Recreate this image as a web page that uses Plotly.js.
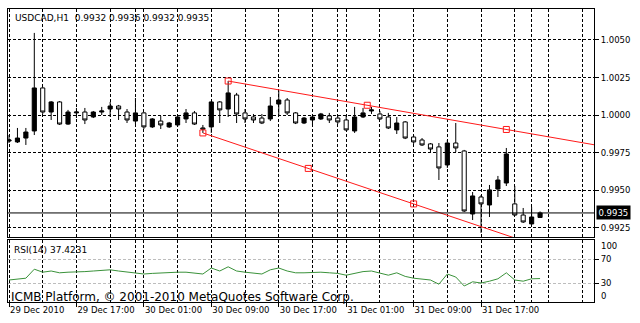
<!DOCTYPE html>
<html>
<head>
<meta charset="utf-8">
<script src="https://cdn.plot.ly/plotly-3.0.1.min.js"></script>
<style>html,body{margin:0;padding:0;background:#fff;}#chart{width:640px;height:323px;}</style>
</head>
<body>
<div id="chart"></div>
<script>
// ---- data (USDCAD, H1) ----
const opens  = [0.99828,0.99822,0.99848,0.99895,1.00181,1.00021,1.00088,0.99941,1.00015,1.00021,
                0.99988,1.00021,1.00041,1.00061,1.00021,0.99961,1.00015,0.99922,0.99961,0.99922,
                0.99935,0.99975,1.00015,0.99915,0.99922,1.00088,1.00041,1.00134,1.00015,0.99988,
                0.99981,0.99975,1.00074,1.00101,1.00015,0.99948,0.99968,0.99975,0.99995,0.99981,
                0.99968,0.99895,0.99988,1.00028,1.00008,0.99988,0.99902,0.99955,0.99855,0.99835,
                0.99809,0.99789,0.99669,0.99815,0.99762,0.99343,0.99456,0.99403,0.99509,0.99549,
                0.99410,0.99336,0.99277,0.99320];
const highs  = [0.99868,0.99915,0.99915,1.00547,1.00188,1.00094,1.00094,1.00035,1.00048,1.00048,
                1.00028,1.00055,1.00088,1.00068,1.00041,1.00114,1.00021,0.99981,0.99995,0.99955,
                1.00001,1.00041,1.00028,0.99935,1.00094,1.00094,1.00227,1.00148,1.00041,1.00008,
                1.00008,1.00121,1.00161,1.00114,1.00021,0.99988,1.00008,1.00015,1.00015,1.00001,
                1.00001,1.00055,1.00048,1.00055,1.00028,1.00015,0.99988,0.99961,0.99868,0.99848,
                0.99815,0.99815,0.99835,0.99948,0.99769,0.99489,0.99469,0.99536,0.99596,0.99782,
                0.99529,0.99383,0.99390,0.99360];
const lows   = [0.99815,0.99815,0.99802,0.99868,1.00008,0.99968,0.99935,0.99935,0.99981,0.99941,
                0.99981,1.00001,0.99988,0.99968,0.99948,0.99941,0.99908,0.99915,0.99908,0.99915,
                0.99922,0.99948,0.99935,0.99882,0.99882,0.99948,0.99988,0.99948,0.99948,0.99948,
                0.99941,0.99961,1.00001,1.00001,0.99941,0.99941,0.99935,0.99968,0.99948,0.99941,
                0.99895,0.99882,0.99981,1.00008,0.99968,0.99908,0.99875,0.99841,0.99809,0.99795,
                0.99755,0.99569,0.99649,0.99755,0.99356,0.99303,0.99217,0.99323,0.99456,0.99529,
                0.99330,0.99283,0.99270,0.99320];
const closes = [0.99835,0.99848,0.99888,1.00181,1.00021,1.00088,0.99941,1.00021,1.00021,0.99968,
                1.00021,1.00028,1.00061,1.00041,0.99968,1.00015,0.99922,0.99975,0.99935,0.99948,
                0.99988,1.00015,0.99941,0.99908,1.00088,1.00035,1.00148,1.00008,0.99975,0.99968,
                0.99948,1.00061,1.00101,1.00015,0.99948,0.99981,0.99988,1.00008,0.99968,0.99955,
                0.99902,0.99988,1.00015,1.00035,0.99975,0.99915,0.99948,0.99848,0.99822,0.99802,
                0.99775,0.99649,0.99815,0.99782,0.99363,0.99463,0.99410,0.99503,0.99569,0.99742,
                0.99336,0.99290,0.99323,0.99350];
const rsi14  = [35,36,38,53,48,50,47,48,48,49,
                50,51,52,50,48,46,45,46,47,47,
                48,48,46,45,55,50,57,50,48,46,
                45,52,55,50,47,47,48,48,47,46,
                43,46,49,50,46,43,47,41,38,36,
                35,28,45,40,25,32,30,33,37,47,
                35,33,37,37.4231];

// time labels (bar index -> label)
const timeTickBars   = [0, 8, 16, 24, 32, 40, 48, 56];
const timeTickLabels = ['29 Dec 2010','29 Dec 17:00','30 Dec 01:00','30 Dec 09:00',
                        '30 Dec 17:00','31 Dec 01:00','31 Dec 09:00','31 Dec 17:00'];
const dayBreakBars   = [15, 39, 62];

const priceTicks = [0.9925, 0.9950, 0.9975, 1.0000, 1.0025, 1.0050];
const rsiLevels  = [30, 70];

// trend lines: two anchor points each (bar index, price)
const upperTrendBars   = [26, 59];
const upperTrendPrices = [1.00227, 0.99905];
const lowerTrendBars   = [23, 48];
const lowerTrendPrices = [0.99882, 0.99410];

const symbolName = 'USDCAD,H1';

// ---- build ----
const bars = opens.map((_, i) => i);
const n = bars.length;
const xRange = [-0.12, 69.4];

function ray(bx, py) {
  const slope = (py[1] - py[0]) / (bx[1] - bx[0]);
  const xe = xRange[1] + 1;
  return {x: [bx[0], bx[1], xe], y: [py[0], py[1], py[0] + slope * (xe - bx[0])]};
}
const up = ray(upperTrendBars, upperTrendPrices);
const lo = ray(lowerTrendBars, lowerTrendPrices);
const mid = (a) => (a[0] + a[1]) / 2;

const minorGrid = [];
for (let g = 4; g <= 68; g += 4) if (!timeTickBars.includes(g)) minorGrid.push(g);
dayBreakBars.forEach(b => minorGrid.push(b));

const fmt = v => v.toFixed(4);
const last = n - 1;
const headerText = symbolName + '  ' + [opens[last], highs[last], lows[last], closes[last]].map(fmt).join(' ');

const gridDash = '3px,2px';
const FONT = 'DejaVu Sans';

const traces = [
  {
    type: 'candlestick', x: bars, open: opens, high: highs, low: lows, close: closes,
    xaxis: 'x', yaxis: 'y', whiskerwidth: 0,
    increasing: {line: {color: '#000', width: 1}, fillcolor: '#000'},
    decreasing: {line: {color: '#000', width: 1}, fillcolor: '#fff'},
    hoverinfo: 'skip', showlegend: false
  },
  {type: 'scatter', mode: 'lines', x: up.x, y: up.y, xaxis: 'x', yaxis: 'y',
   line: {color: '#ff1a1a', width: 1}, hoverinfo: 'skip', showlegend: false},
  {type: 'scatter', mode: 'lines', x: lo.x, y: lo.y, xaxis: 'x', yaxis: 'y',
   line: {color: '#ff1a1a', width: 1}, hoverinfo: 'skip', showlegend: false},
  {type: 'scatter', mode: 'markers',
   x: [upperTrendBars[0], mid(upperTrendBars), upperTrendBars[1], lowerTrendBars[0], mid(lowerTrendBars), lowerTrendBars[1]],
   y: [upperTrendPrices[0], mid(upperTrendPrices), upperTrendPrices[1], lowerTrendPrices[0], mid(lowerTrendPrices), lowerTrendPrices[1]],
   xaxis: 'x', yaxis: 'y',
   marker: {symbol: 'square-open', size: 6, color: '#ff1a1a', line: {width: 1, color: '#ff1a1a'}},
   hoverinfo: 'skip', showlegend: false},
  {type: 'scatter', mode: 'lines', x: bars, y: rsi14, xaxis: 'x2', yaxis: 'y2',
   line: {color: '#3a923a', width: 1}, hoverinfo: 'skip', showlegend: false}
];

const H = 323, mt = 9, mb = 21;
const ph = H - mt - mb;
const mainBottom = (H - mb - 237) / ph;
const rsiTop = (H - mb - 240) / ph;

const xCommon = {
  range: xRange, tickmode: 'array', tickvals: timeTickBars, ticktext: timeTickLabels,
  showgrid: true, gridcolor: '#000', gridwidth: 1, griddash: gridDash,
  minor: {tickmode: 'array', tickvals: minorGrid, showgrid: true, gridcolor: '#000', gridwidth: 1, griddash: gridDash, ticks: ''},
  showline: true, mirror: true, linecolor: '#000', linewidth: 1, zeroline: false,
  rangeslider: {visible: false}, fixedrange: true
};

const layout = {
  width: 640, height: 323,
  margin: {l: 8, r: 46, t: mt, b: mb, pad: 0},
  paper_bgcolor: '#fff', plot_bgcolor: '#fff',
  font: {family: FONT, size: 9, color: '#000'},
  showlegend: false, hovermode: false,
  xaxis: Object.assign({}, xCommon, {domain: [0, 1], anchor: 'y', showticklabels: false, ticks: ''}),
  xaxis2: Object.assign({}, xCommon, {domain: [0, 1], anchor: 'y2', showticklabels: true,
    ticks: 'outside', ticklen: 4, tickcolor: '#000', ticklabelposition: 'outside right',
    tickfont: {family: FONT, size: 8.5, color: '#000'}}),
  yaxis: {
    domain: [mainBottom, 1], range: [0.99190, 1.00706], side: 'right', anchor: 'x',
    tickmode: 'array', tickvals: priceTicks, ticktext: priceTicks.map(fmt),
    showgrid: true, gridcolor: '#000', gridwidth: 1, griddash: gridDash,
    ticks: 'outside', ticklen: 4, tickcolor: '#000',
    showline: true, mirror: true, linecolor: '#000', linewidth: 1, zeroline: false,
    tickfont: {family: FONT, size: 8.5, color: '#000'}, fixedrange: true
  },
  yaxis2: {
    domain: [0, rsiTop], range: [-1.67, 101.67], side: 'right', anchor: 'x2',
    tickmode: 'array', tickvals: rsiLevels, ticktext: rsiLevels.map(String),
    showgrid: true, gridcolor: '#bdbdbd', gridwidth: 1, griddash: gridDash,
    ticks: 'outside', ticklen: 4, tickcolor: '#000',
    showline: true, mirror: true, linecolor: '#000', linewidth: 1, zeroline: false,
    tickfont: {family: FONT, size: 8.5, color: '#000'}, fixedrange: true
  },
  shapes: [
    {type: 'line', xref: 'paper', yref: 'y', x0: 0, x1: 1, y0: closes[last], y1: closes[last],
     line: {color: '#000', width: 1}}
  ],
  annotations: [
    {xref: 'paper', yref: 'paper', x: 0, y: 1, xanchor: 'left', yanchor: 'top', xshift: 5, yshift: -2,
     text: headerText, showarrow: false, font: {family: FONT, size: 9, color: '#000'}},
    {xref: 'paper', yref: 'paper', x: 0, y: rsiTop, xanchor: 'left', yanchor: 'top', xshift: 4, yshift: -3,
     text: 'RSI(14) ' + rsi14[last].toFixed(4), showarrow: false, font: {family: FONT, size: 9, color: '#000'}},
    {xref: 'paper', yref: 'y', x: 1, y: closes[last], xanchor: 'left', yanchor: 'middle', xshift: 2,
     text: fmt(closes[last]), showarrow: false, bgcolor: '#000', borderpad: 1.5,
     font: {family: FONT, size: 8.5, color: '#fff'}},
    {xref: 'paper', yref: 'y2', x: 1, y: 100, xanchor: 'left', yanchor: 'middle', xshift: 5, yshift: -5,
     text: '100', showarrow: false, font: {family: FONT, size: 8.5, color: '#000'}},
    {xref: 'paper', yref: 'y2', x: 1, y: 0, xanchor: 'left', yanchor: 'middle', xshift: 5, yshift: 5,
     text: '0', showarrow: false, font: {family: FONT, size: 8.5, color: '#000'}},
    {xref: 'paper', yref: 'paper', x: 0, y: 0, xanchor: 'left', yanchor: 'middle', xshift: 1, yshift: 5,
     text: 'ICMB Platform, © 2001-2010 MetaQuotes Software Corp.', showarrow: false,
     font: {family: FONT, size: 12, color: '#000'}}
  ]
};

Plotly.newPlot('chart', traces, layout, {staticPlot: true, displayModeBar: false});
</script>
</body>
</html>
